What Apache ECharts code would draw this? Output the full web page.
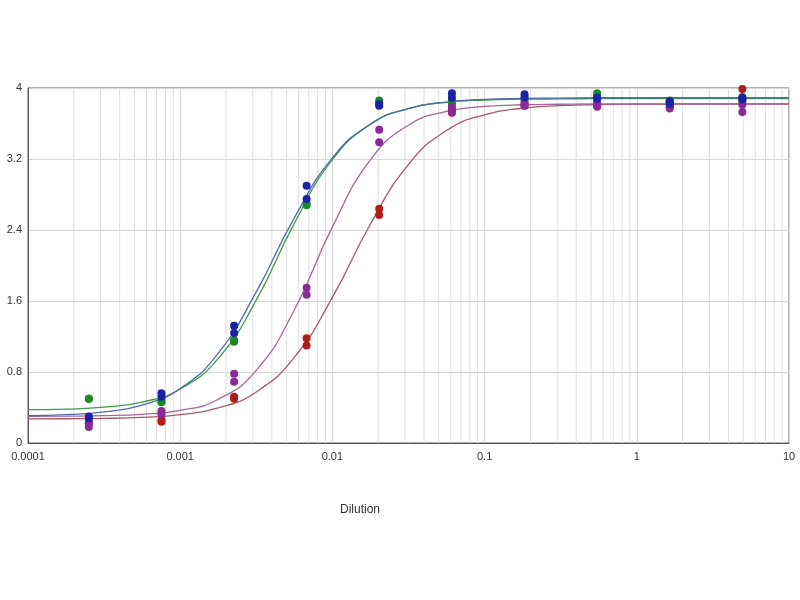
<!DOCTYPE html>
<html>
<head>
<meta charset="utf-8">
<script src="https://cdn.jsdelivr.net/npm/echarts@6/dist/echarts.min.js"></script>
<style>
  html, body { margin: 0; padding: 0; background: #fff; }
  #chart { width: 800px; height: 600px; }
</style>
</head>
<body>
<div id="chart"></div>
<script>
// dilution points (1:3 series)
const dilutions = [0.000251, 0.000753, 0.00226, 0.00677, 0.0203, 0.061, 0.183, 0.549, 1.646, 4.938];

// replicate readings
const redA    = [0.24, 0.26, 0.52, 1.18, 2.64, 3.76, 3.82, 3.82, 3.80, 3.99];
const redB    = [0.22, 0.24, 0.50, 1.10, 2.57, 3.72, 3.80, 3.80, 3.78, 3.85];
const greenA  = [0.50, 0.46, 1.14, 2.70, 3.86, 3.82, 3.87, 3.94, 3.86, 3.90];
const greenB  = [0.50, 0.48, 1.16, 2.68, 3.84, 3.85, 3.88, 3.92, 3.84, 3.88];
const purpleA = [0.22, 0.36, 0.78, 1.75, 3.53, 3.79, 3.84, 3.84, 3.84, 3.81];
const purpleB = [0.18, 0.32, 0.69, 1.67, 3.39, 3.73, 3.80, 3.79, 3.77, 3.73];
const blueA   = [0.28, 0.56, 1.32, 2.90, 3.80, 3.94, 3.93, 3.89, 3.85, 3.89];
const blueB   = [0.30, 0.52, 1.24, 2.75, 3.82, 3.89, 3.90, 3.88, 3.82, 3.87];

// fitted curves, sampled at quarter decades
const curveX = [0.0001, 0.000178, 0.000316, 0.000562, 0.001, 0.00178, 0.00316, 0.00562,
  0.01, 0.0178, 0.0316, 0.0562, 0.1, 0.178, 0.316, 0.562, 1, 1.78, 3.16, 5.62, 10];
const redCurve    = [0.271, 0.273, 0.277, 0.289, 0.319, 0.395, 0.575, 0.965, 1.641, 2.468, 3.137,
  3.521, 3.698, 3.772, 3.801, 3.813, 3.817, 3.82, 3.82, 3.82, 3.82];
const greenCurve  = [0.375, 0.382, 0.404, 0.461, 0.609, 0.954, 1.610, 2.474, 3.192, 3.592, 3.769,
  3.839, 3.865, 3.874, 3.877, 3.88, 3.88, 3.88, 3.88, 3.88, 3.88];
const purpleCurve = [0.301, 0.303, 0.308, 0.323, 0.367, 0.493, 0.819, 1.499, 2.435, 3.192, 3.581,
  3.736, 3.792, 3.811, 3.817, 3.82, 3.82, 3.82, 3.82, 3.82, 3.82];
const blueCurve   = [0.308, 0.320, 0.351, 0.428, 0.614, 1.013, 1.703, 2.537, 3.212, 3.593, 3.769,
  3.842, 3.871, 3.883, 3.887, 3.89, 3.89, 3.89, 3.89, 3.89, 3.89];

const xTicks = [0.0001, 0.001, 0.01, 0.1, 1, 10];

const pairs = (xs, ys) => xs.map((x, i) => [x, ys[i]]);
const reps = (a, b) => pairs(dilutions, a).concat(pairs(dilutions, b));

const series = [];

// minor log grid lines 2..9 in every decade, as thin vertical line series
xTicks.slice(0, -1).forEach(d => {
  for (let k = 2; k <= 9; k++) {
    series.push({
      type: 'line',
      data: [[d * k, 0], [d * k, 4]],
      silent: true,
      showSymbol: false,
      lineStyle: { color: '#dedede', width: 1 },
      z: 0
    });
  }
});

const groups = [
  { name: 'red',    dot: '#b01c18', line: '#a65a66', curve: redCurve,    a: redA,    b: redB },
  { name: 'green',  dot: '#1a8a24', line: '#3e9a4c', curve: greenCurve,  a: greenA,  b: greenB },
  { name: 'purple', dot: '#8a2a9a', line: '#a2689c', curve: purpleCurve, a: purpleA, b: purpleB },
  { name: 'blue',   dot: '#1a22a8', line: '#4f6aa6', curve: blueCurve,   a: blueA,   b: blueB }
];

groups.forEach(g => {
  series.push({
    name: g.name + ' fit',
    type: 'line',
    data: pairs(curveX, g.curve),
    smooth: true,
    showSymbol: false,
    lineStyle: { color: g.line, width: 1.3 },
    z: 2
  });
});
groups.forEach(g => {
  series.push({
    name: g.name,
    type: 'scatter',
    data: reps(g.a, g.b),
    symbolSize: 8,
    itemStyle: { color: g.dot, opacity: 1 },
    z: 3
  });
});

const chart = echarts.init(document.getElementById('chart'));
chart.setOption({
  animation: false,
  backgroundColor: '#fff',
  grid: {
    left: 28, right: 11, top: 88, bottom: 157,
    show: true, borderColor: '#666', borderWidth: 1
  },
  xAxis: {
    type: 'log',
    logBase: 10,
    min: 0.0001,
    max: 10,
    axisLine: { lineStyle: { color: '#555' } },
    axisTick: { show: false },
    axisLabel: {
      color: '#333', fontSize: 11, fontFamily: 'Liberation Sans', margin: 8,
      formatter: v => String(+(+v).toPrecision(1))
    },
    splitLine: { show: true, lineStyle: { color: '#d6d6d6' } }
  },
  yAxis: {
    type: 'value',
    min: 0,
    max: 4,
    interval: 0.8,
    axisLine: { show: true, lineStyle: { color: '#555' } },
    axisTick: { show: false },
    axisLabel: { color: '#333', fontSize: 11, fontFamily: 'Liberation Sans', margin: 6 },
    splitLine: { show: true, lineStyle: { color: '#d6d6d6' } }
  },
  graphic: [{
    type: 'text',
    left: 340,
    top: 504,
    style: { text: 'Dilution', fill: '#333', font: '12px "Liberation Sans"' }
  }],
  series: series
});
</script>
</body>
</html>
